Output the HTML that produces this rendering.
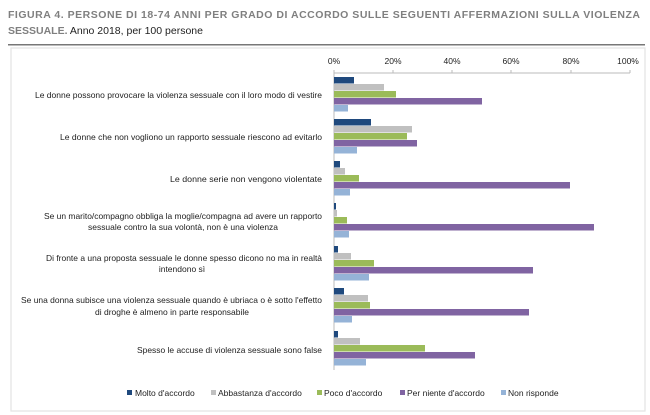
<!DOCTYPE html>
<html><head><meta charset="utf-8"><style>
body{margin:0;background:#fff;width:650px;height:415px;overflow:hidden}
svg{display:block}
text{font-family:"Liberation Sans",sans-serif}
</style></head><body>
<svg width="650" height="415" viewBox="0 0 650 415" xmlns="http://www.w3.org/2000/svg">
<text x="8" y="18" font-size="10.5" font-weight="bold" fill="#7f7f7f" textLength="632" lengthAdjust="spacing">FIGURA 4. PERSONE DI 18-74 ANNI PER GRADO DI ACCORDO SULLE SEGUENTI AFFERMAZIONI SULLA VIOLENZA</text>
<text x="8" y="34" font-size="10.5" fill="#222"><tspan font-weight="bold" fill="#7f7f7f">SESSUALE.</tspan> Anno 2018, per 100 persone</text>
<rect x="8" y="44" width="637" height="1.5" fill="#777"/>
<rect x="11" y="48" width="634" height="363" fill="none" stroke="#e3e3e3" stroke-width="1.2"/>
<g font-size="8.5" fill="#222" text-anchor="middle">
<text x="334" y="64">0%</text><text x="393" y="64">20%</text><text x="452" y="64">40%</text><text x="511" y="64">60%</text><text x="571" y="64">80%</text><text x="628" y="64">100%</text>
</g>
<g stroke="#bbb" stroke-width="1">
<line x1="334" y1="73" x2="630" y2="73"/>
<line x1="334" y1="73" x2="334" y2="370"/>
<line x1="393" y1="70" x2="393" y2="73"/><line x1="452" y1="70" x2="452" y2="73"/><line x1="511" y1="70" x2="511" y2="73"/><line x1="571" y1="70" x2="571" y2="73"/><line x1="630" y1="70" x2="630" y2="73"/><line x1="334" y1="70" x2="334" y2="73"/>
</g>
<g id="bars">
<!-- G1 -->
<rect x="334" y="77" width="20" height="6.5" fill="#1f497d"/><rect x="334" y="84" width="50" height="6.5" fill="#c0c0c0"/><rect x="334" y="91" width="62" height="6.5" fill="#9bbb59"/><rect x="334" y="98" width="148" height="6.5" fill="#8064a2"/><rect x="334" y="105" width="14" height="6.5" fill="#95b3d7"/>
<!-- G2 -->
<rect x="334" y="119" width="37" height="6.5" fill="#1f497d"/><rect x="334" y="126" width="78" height="6.5" fill="#c0c0c0"/><rect x="334" y="133" width="73" height="6.5" fill="#9bbb59"/><rect x="334" y="140" width="83" height="6.5" fill="#8064a2"/><rect x="334" y="147" width="23" height="6.5" fill="#95b3d7"/>
<!-- G3 -->
<rect x="334" y="161" width="6" height="6.5" fill="#1f497d"/><rect x="334" y="168" width="11" height="6.5" fill="#c0c0c0"/><rect x="334" y="175" width="25" height="6.5" fill="#9bbb59"/><rect x="334" y="182" width="236" height="6.5" fill="#8064a2"/><rect x="334" y="189" width="16" height="6.5" fill="#95b3d7"/>
<!-- G4 -->
<rect x="334" y="203" width="2" height="6.5" fill="#1f497d"/><rect x="334" y="210" width="3" height="6.5" fill="#c0c0c0"/><rect x="334" y="217" width="13" height="6.5" fill="#9bbb59"/><rect x="334" y="224" width="260" height="6.5" fill="#8064a2"/><rect x="334" y="231" width="15" height="6.5" fill="#95b3d7"/>
<!-- G5 -->
<rect x="334" y="246" width="4" height="6.5" fill="#1f497d"/><rect x="334" y="253" width="17" height="6.5" fill="#c0c0c0"/><rect x="334" y="260" width="40" height="6.5" fill="#9bbb59"/><rect x="334" y="267" width="199" height="6.5" fill="#8064a2"/><rect x="334" y="274" width="35" height="6.5" fill="#95b3d7"/>
<!-- G6 -->
<rect x="334" y="288" width="10" height="6.5" fill="#1f497d"/><rect x="334" y="295" width="34" height="6.5" fill="#c0c0c0"/><rect x="334" y="302" width="36" height="6.5" fill="#9bbb59"/><rect x="334" y="309" width="195" height="6.5" fill="#8064a2"/><rect x="334" y="316" width="18" height="6.5" fill="#95b3d7"/>
<!-- G7 -->
<rect x="334" y="331" width="4" height="6.5" fill="#1f497d"/><rect x="334" y="338" width="26" height="6.5" fill="#c0c0c0"/><rect x="334" y="345" width="91" height="6.5" fill="#9bbb59"/><rect x="334" y="352" width="141" height="6.5" fill="#8064a2"/><rect x="334" y="359" width="32" height="6.5" fill="#95b3d7"/>
</g>
<g font-size="8.5" fill="#222" text-anchor="end">
<text x="322" y="98" textLength="287" lengthAdjust="spacingAndGlyphs">Le donne possono provocare la violenza sessuale con il loro modo di vestire</text>
<text x="322" y="140" textLength="262" lengthAdjust="spacingAndGlyphs">Le donne che non vogliono un rapporto sessuale riescono ad evitarlo</text>
<text x="322" y="182" textLength="152" lengthAdjust="spacingAndGlyphs">Le donne serie non vengono violentate</text>
<text x="322" y="219" textLength="278" lengthAdjust="spacingAndGlyphs">Se un marito/compagno obbliga la moglie/compagna ad avere un rapporto</text>
<text x="322" y="261" textLength="276" lengthAdjust="spacingAndGlyphs">Di fronte a una proposta sessuale le donne spesso dicono no ma in realtà</text>
<text x="322" y="303" textLength="301" lengthAdjust="spacingAndGlyphs">Se una donna subisce una violenza sessuale quando è ubriaca o è sotto l'effetto</text>
<text x="322" y="353" textLength="185" lengthAdjust="spacingAndGlyphs">Spesso le accuse di violenza sessuale sono false</text>
</g>
<g font-size="8.5" fill="#222" text-anchor="middle">
<text x="183" y="230" textLength="190" lengthAdjust="spacingAndGlyphs">sessuale contro la sua volontà, non è una violenza</text>
<text x="182" y="272">intendono sì</text>
<text x="172" y="315" textLength="154" lengthAdjust="spacingAndGlyphs">di droghe è almeno in parte responsabile</text>
</g>
<g font-size="8.5" fill="#222">
<rect x="127" y="390" width="5" height="5" fill="#1f497d"/><text x="135" y="396">Molto d'accordo</text>
<rect x="211" y="390" width="5" height="5" fill="#c0c0c0"/><text x="218" y="396">Abbastanza d'accordo</text>
<rect x="317" y="390" width="5" height="5" fill="#9bbb59"/><text x="324" y="396">Poco d'accordo</text>
<rect x="400" y="390" width="5" height="5" fill="#8064a2"/><text x="407" y="396">Per niente d'accordo</text>
<rect x="501" y="390" width="5" height="5" fill="#95b3d7"/><text x="508" y="396">Non risponde</text>
</g>
</svg>
</body></html>
